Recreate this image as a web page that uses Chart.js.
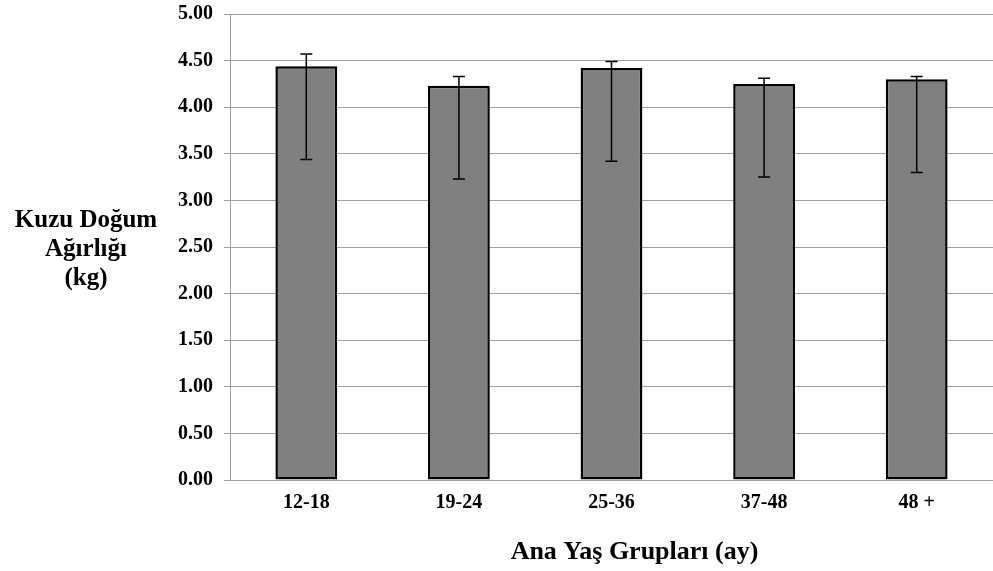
<!DOCTYPE html>
<html>
<head>
<meta charset="utf-8">
<script src="https://cdn.jsdelivr.net/npm/chart.js@4.4.1/dist/chart.umd.min.js"></script>
<style>
  html, body { margin: 0; padding: 0; background: #ffffff; }
  #wrap { width: 993px; height: 571px; position: relative; }
</style>
</head>
<body>
<div id="wrap"><canvas id="c" width="993" height="571"></canvas></div>
<script>
const categories = ['12-18', '19-24', '25-36', '37-48', '48 +'];
const means = [4.44, 4.23, 4.42, 4.25, 4.30];
const errUpper = [4.57, 4.33, 4.49, 4.31, 4.33];
const errLower = [3.44, 3.23, 3.42, 3.25, 3.30];
const yTitleLines = ['Kuzu Doğum', 'Ağırlığı', '(kg)'];
const xTitle = 'Ana Yaş Grupları (ay)';

const FONT = '"Liberation Serif", "Times New Roman", serif';

const errorBarPlugin = {
  id: 'errorBars',
  afterDatasetsDraw(chart) {
    const ctx = chart.ctx;
    const y = chart.scales.y;
    const meta = chart.getDatasetMeta(0);
    ctx.save();
    ctx.strokeStyle = '#000000';
    ctx.lineWidth = 1.5;
    meta.data.forEach((bar, i) => {
      const x = bar.x;
      const yt = y.getPixelForValue(errUpper[i]);
      const yb = y.getPixelForValue(errLower[i]);
      const cap = 6;
      ctx.beginPath();
      ctx.moveTo(x, yt); ctx.lineTo(x, yb);
      ctx.moveTo(x - cap, yt); ctx.lineTo(x + cap, yt);
      ctx.moveTo(x - cap, yb); ctx.lineTo(x + cap, yb);
      ctx.stroke();
    });
    ctx.restore();
  }
};

const titlesPlugin = {
  id: 'titles',
  afterDraw(chart) {
    const ctx = chart.ctx;
    const a = chart.chartArea;
    ctx.save();
    ctx.fillStyle = '#000000';
    ctx.textAlign = 'center';
    ctx.textBaseline = 'middle';
    ctx.font = 'bold 25px ' + FONT;
    const midY = (a.top + a.bottom) / 2 + 3;
    const lh = 29;
    yTitleLines.forEach((t, i) => {
      ctx.fillText(t, 86, midY + (i - 1) * lh);
    });
    ctx.font = 'bold 26px ' + FONT;
    ctx.fillText(xTitle, (a.left + a.right) / 2 + 23, a.bottom + 72);
    ctx.restore();
  }
};

new Chart(document.getElementById('c'), {
  type: 'bar',
  data: {
    labels: categories,
    datasets: [{
      data: means,
      backgroundColor: '#808080',
      borderColor: '#000000',
      borderWidth: 2.5,
      borderSkipped: false,
      categoryPercentage: 1.0,
      barPercentage: 0.405
    }]
  },
  options: {
    responsive: false,
    animation: false,
    devicePixelRatio: 1,
    layout: { padding: { top: 14, right: 0, left: 0, bottom: 0 } },
    plugins: {
      legend: { display: false },
      tooltip: { enabled: false }
    },
    scales: {
      x: {
        grid: { display: false, drawTicks: false },
        border: { display: true, color: '#a0a0a0', width: 1 },
        ticks: {
          color: '#000000',
          padding: 11,
          font: { family: FONT, size: 20, weight: 'bold' }
        },
        afterFit(scale) { scale.height = 91; scale.paddingLeft = 0; scale.paddingRight = 0; }
      },
      y: {
        min: 0,
        max: 5,
        ticks: {
          stepSize: 0.5,
          color: '#000000',
          padding: 11,
          font: { family: FONT, size: 20, weight: 'bold' },
          callback: (v) => Number(v).toFixed(2)
        },
        grid: { color: '#a0a0a0', lineWidth: 1, tickLength: 6, drawTicks: true },
        border: { display: true, color: '#a0a0a0', width: 1 },
        afterFit(scale) { scale.width = 230; scale.paddingTop = 0; scale.paddingBottom = 0; }
      }
    }
  },
  plugins: [errorBarPlugin, titlesPlugin]
});
</script>
</body>
</html>
